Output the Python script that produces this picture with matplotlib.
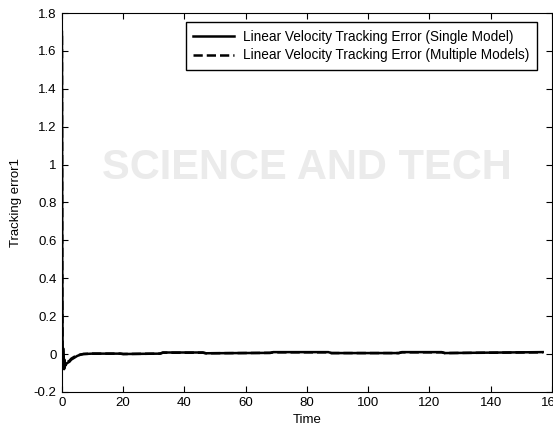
import matplotlib
matplotlib.use('Agg')
import matplotlib.pyplot as plt

plt.rcParams['font.family'] = ['Liberation Sans', 'DejaVu Sans']

# single model error
t_single = [0, 0.05, 0.1, 0.2, 0.3, 0.4, 0.5, 0.6, 0.7, 0.8, 0.9, 1.0, 1.2, 1.5, 2.0, 2.5,
            3.0, 4.0, 5.0, 6.0, 7.0, 10, 19, 20, 32, 33, 46, 47, 68, 69, 87, 88,
            110, 111, 124, 125, 157]
e_single = [1.7, 1.2, 0.5, 0.05, -0.06, 0.03, -0.07, -0.02, -0.08, -0.03, -0.07, -0.05,
            -0.06, -0.05, -0.045, -0.04, -0.03, -0.02, -0.01, -0.004, 0.0, 0.002, 0.002,
            0.0, 0.002, 0.008, 0.008, 0.004, 0.006, 0.01, 0.01, 0.005, 0.005, 0.01,
            0.01, 0.005, 0.01]

# multiple models error
t_multi = [0, 0.05, 0.1, 0.2, 0.3, 0.4, 0.5, 0.6, 0.7, 0.8, 0.9, 1.0, 1.2, 1.5, 2.0, 2.5,
           3.0, 4.0, 5.0, 6.0, 7.0, 10, 19, 20, 32, 33, 46, 47, 68, 69, 87, 88,
           110, 111, 124, 125, 157]
e_multi = [1.68, 1.0, 0.3, 0.02, -0.05, 0.02, -0.06, -0.03, -0.07, -0.04, -0.06, -0.05,
           -0.05, -0.045, -0.04, -0.035, -0.025, -0.015, -0.008, -0.003, 0.0, 0.002, 0.002,
           0.0, 0.002, 0.007, 0.007, 0.004, 0.006, 0.009, 0.009, 0.005, 0.005, 0.009,
           0.009, 0.005, 0.009]

y_ticks = [-0.2, 0, 0.2, 0.4, 0.6, 0.8, 1.0, 1.2, 1.4, 1.6, 1.8]
y_labels = ['-0.2', '0', '0.2', '0.4', '0.6', '0.8', '1', '1.2', '1.4', '1.6', '1.8']

fig = plt.figure(figsize=(5.53, 4.34), dpi=100)
ax = fig.add_axes([0.112, 0.097, 0.886, 0.873])

# faint watermark from the source page
ax.text(0.5, 0.59, 'SCIENCE AND TECH', transform=ax.transAxes, fontsize=30,
        color='#ebebeb', ha='center', va='center', zorder=0, fontweight='bold')

ax.plot(t_single, e_single, color='black', lw=1.8, label='Linear Velocity Tracking Error (Single Model)')
ax.plot(t_multi, e_multi, color='black', lw=1.8, ls='--',
        label='Linear Velocity Tracking Error (Multiple Models)')

ax.set_xlim(0, 160)
ax.set_ylim(-0.2, 1.8)
ax.set_xticks(range(0, 161, 20))
ax.set_yticks(y_ticks)
ax.set_yticklabels(y_labels)
ax.tick_params(direction='in', top=True, right=True, labelsize=9.5, length=4, pad=4)
ax.set_xlabel('Time', fontsize=9.5, labelpad=3)
ax.set_ylabel('Tracking error1', fontsize=9.5, labelpad=8)

leg = ax.legend(loc='upper right', bbox_to_anchor=(0.969, 0.976), borderaxespad=0,
                fontsize=9.8, fancybox=False, framealpha=1, edgecolor='black',
                handlelength=3.0, handletextpad=0.65, borderpad=0.55, labelspacing=0.35)
leg.get_frame().set_linewidth(1.0)

fig.savefig('out.png', dpi=100)
